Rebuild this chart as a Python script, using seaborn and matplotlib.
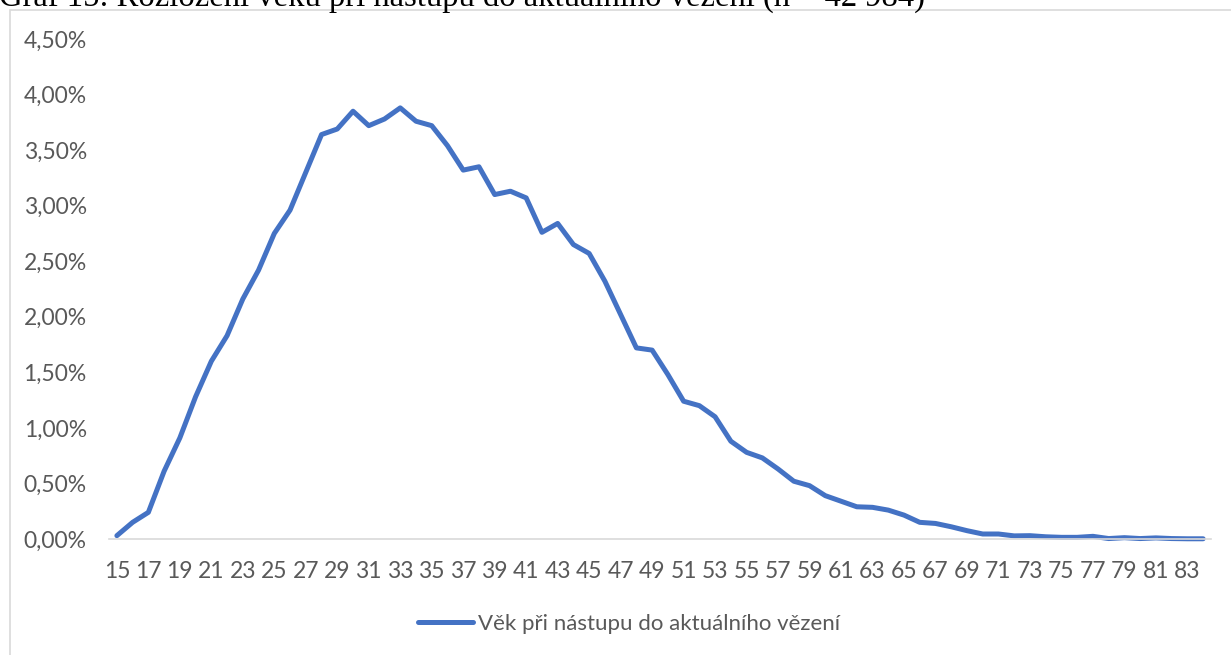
import numpy as np
import pandas as pd
import matplotlib
matplotlib.use('Agg')
import matplotlib.pyplot as plt
import seaborn as sns
from matplotlib.ticker import FuncFormatter
from matplotlib.patches import Rectangle

# ================================
# 1. DATA (% of inmates)
# ================================
ages = list(range(15, 85))
shares = [0.03, 0.15, 0.24, 0.61, 0.91, 1.28, 1.60, 1.83, 2.16, 2.42,
          2.75, 2.96, 3.30, 3.64, 3.69, 3.85, 3.72, 3.78, 3.88, 3.76,
          3.72, 3.54, 3.32, 3.35, 3.10, 3.13, 3.07, 2.76, 2.84, 2.65,
          2.57, 2.32, 2.02, 1.72, 1.70, 1.48, 1.24, 1.20, 1.10, 0.88,
          0.78, 0.73, 0.63, 0.52, 0.48, 0.39, 0.34, 0.29, 0.285, 0.26,
          0.215, 0.15, 0.14, 0.11, 0.075, 0.045, 0.045, 0.028, 0.03, 0.02,
          0.015, 0.015, 0.024, 0.004, 0.012, 0.004, 0.01, 0.004, 0.002, 0.002]
series_name = 'Věk při nástupu do aktuálního vězení'
title = 'Graf 15: Rozložení věku při nástupu do aktuálního vězení (n = 42 984)'
y_ticks = [0, 0.5, 1.0, 1.5, 2.0, 2.5, 3.0, 3.5, 4.0, 4.5]

df = pd.DataFrame({'Vek': ages, 'Podil': shares, 'Serie': series_name})

# ================================
# 2. FIGURE
# ================================
sns.set_style('white')
plt.rcParams['font.family'] = ['Lato', 'DejaVu Sans']

W, H = 1231, 655
fig = plt.figure(figsize=(W / 100, H / 100), dpi=100)
ax = fig.add_axes([109 / W, (H - 539) / H, (1211 - 109) / W, (539 - 39) / H])

sns.lineplot(data=df, x='Vek', y='Podil', hue='Serie', palette=['#4472C4'],
             linewidth=3.6, ax=ax, clip_on=False)
for ln in ax.lines:
    ln.set_solid_capstyle('round')
    ln.set_solid_joinstyle('round')

ax.set_xlim(14.5, 84.5)
ax.set_ylim(0, 4.5)
ax.set_xticks(range(15, 85, 2))
ax.set_yticks(y_ticks)
ax.yaxis.set_major_formatter(FuncFormatter(lambda v, p: f'{v:.2f}%'.replace('.', ',')))
ax.tick_params(axis='both', length=0, labelsize=16.5, colors='#595959')
ax.tick_params(axis='y', pad=16)
ax.tick_params(axis='x', pad=16)
ax.set_xlabel('')
ax.set_ylabel('')
for side in ['top', 'right', 'left']:
    ax.spines[side].set_visible(False)
ax.spines['bottom'].set_color('#d9d9d9')
ax.spines['bottom'].set_linewidth(1.2)
ax.grid(False)

# legend at the bottom
ax.legend_.remove()
handles, labels = ax.get_legend_handles_labels()
fig.legend(handles, labels, loc='center', bbox_to_anchor=(629 / W, 1 - 624 / H),
           frameon=False, fontsize=16, handlelength=2.5, handletextpad=0.2,
           labelcolor='#595959')

# chart frame (extends past the right and bottom edge)
fig.patches.append(Rectangle((10 / W, -0.1), 1.2, 1.1 - 10 / H,
                             transform=fig.transFigure, fill=False,
                             edgecolor='#d9d9d9', linewidth=1.2))

# cut-off caption at the very top
fig.text(-1 / W, 1 - 6 / H, title, family=['Liberation Serif', 'DejaVu Serif'],
         fontsize=23.5, color='black', ha='left', va='baseline')

fig.savefig('out.png', dpi=100)
print("Chart saved!")
